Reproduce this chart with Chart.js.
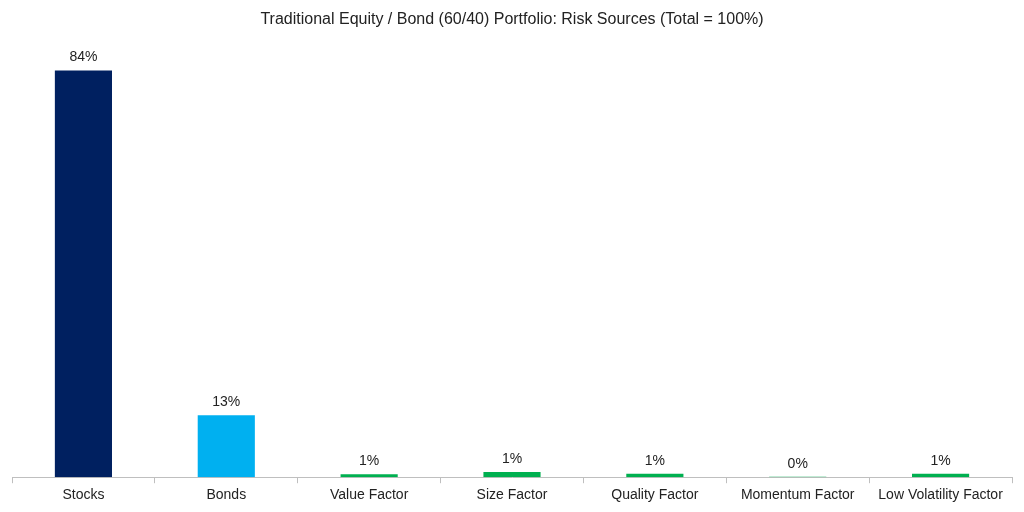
<!DOCTYPE html>
<html>
<head>
<meta charset="utf-8">
<script src="https://cdn.jsdelivr.net/npm/chart.js@4"></script>
<style>
  html, body { margin: 0; padding: 0; background: #fff; }
  #wrap { width: 1024px; height: 512px; }
</style>
</head>
<body>
<div id="wrap"><canvas id="chart"></canvas></div>
<script>
const categories = ['Stocks', 'Bonds', 'Value Factor', 'Size Factor', 'Quality Factor', 'Momentum Factor', 'Low Volatility Factor'];
const riskShare = [84, 12.8, 0.6, 1.1, 0.7, 0.1, 0.7];
const barColors = ['#002060', '#00B0F0', '#00B050', '#00B050', '#00B050', '#00B050', '#00B050'];

// valeurs au-dessus des barres
const valueLabels = {
  id: 'valueLabels',
  afterDatasetsDraw(chart) {
    const ctx = chart.ctx;
    const meta = chart.getDatasetMeta(0);
    ctx.save();
    ctx.font = '14px "Liberation Sans", Arial, sans-serif';
    ctx.fillStyle = '#222';
    ctx.textAlign = 'center';
    ctx.textBaseline = 'bottom';
    meta.data.forEach((bar, i) => {
      ctx.fillText(Math.round(riskShare[i]) + '%', bar.x, bar.y - 6);
    });
    ctx.restore();
  }
};

new Chart(document.getElementById('chart'), {
  type: 'bar',
  data: {
    labels: categories,
    datasets: [{
      data: riskShare,
      backgroundColor: barColors,
      categoryPercentage: 1,
      barPercentage: 0.4
    }]
  },
  options: {
    responsive: true,
    maintainAspectRatio: false,
    animation: false,
    layout: { padding: { left: 12, right: 12, top: 0, bottom: 4 } },
    plugins: {
      legend: { display: false },
      tooltip: { enabled: false },
      title: {
        display: true,
        text: 'Traditional Equity / Bond (60/40) Portfolio: Risk Sources (Total = 100%)',
        color: '#222',
        font: { family: '"Liberation Sans", Arial, sans-serif', size: 16, weight: 'normal' },
        padding: { top: 10, bottom: 22 }
      }
    },
    scales: {
      x: {
        grid: { offset: true, drawOnChartArea: false, color: '#bfbfbf', tickLength: 6 },
        border: { color: '#bfbfbf' },
        ticks: { color: '#222', font: { family: '"Liberation Sans", Arial, sans-serif', size: 14 }, padding: 4 }
      },
      y: {
        display: false,
        min: 0,
        max: 88
      }
    }
  },
  plugins: [valueLabels]
});
</script>
</body>
</html>
